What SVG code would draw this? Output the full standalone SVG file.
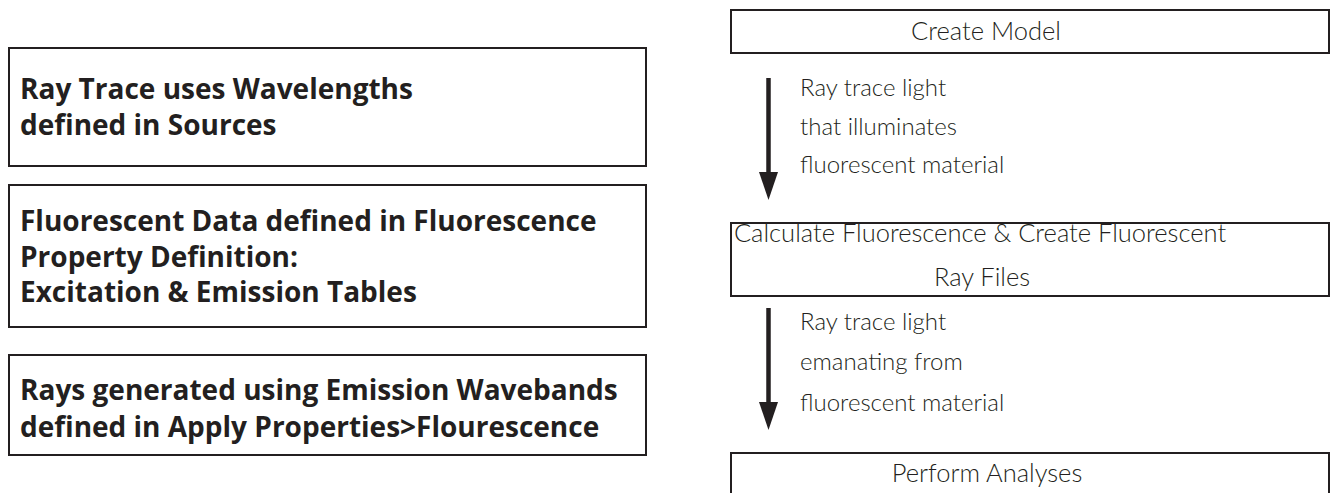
<svg xmlns="http://www.w3.org/2000/svg" width="1330" height="493" viewBox="0 0 1330 493">
  <style>
    .box { fill: #ffffff; stroke: #231f20; stroke-width: 2; }
    .bold { font-family: "Open Sans", Lato, "Liberation Sans", sans-serif; font-weight: 700; font-size: 28px; fill: #231f20; }
    .light { font-family: Lato, "Open Sans", "Liberation Sans", sans-serif; font-weight: 300; font-size: 25.5px; fill: #231f20; }
    .lbl { font-family: Lato, "Open Sans", "Liberation Sans", sans-serif; font-weight: 300; font-size: 24px; fill: #231f20; }
    .mid { text-anchor: middle; }
    .shaft { stroke: #231f20; stroke-width: 4.5; fill: none; }
    .head { fill: #231f20; }
  </style>
  <rect width="1330" height="493" fill="#ffffff"/>

  <g id="note-wavelengths">
    <rect class="box" x="9" y="48" width="637" height="118"/>
    <text class="bold" x="20" y="99">Ray Trace uses Wavelengths</text>
    <text class="bold" x="20" y="135">defined in Sources</text>
  </g>

  <g id="note-fluorescent-data">
    <rect class="box" x="9" y="185" width="637" height="142"/>
    <text class="bold" x="20" y="231">Fluorescent Data defined in Fluorescence</text>
    <text class="bold" x="20" y="267">Property Definition:</text>
    <text class="bold" x="20" y="302">Excitation &amp; Emission Tables</text>
  </g>

  <g id="note-rays-generated">
    <rect class="box" x="9" y="355" width="637" height="100"/>
    <text class="bold" x="20" y="400">Rays generated using Emission Wavebands</text>
    <text class="bold" x="20" y="437">defined in Apply Properties&gt;Flourescence</text>
  </g>

  <g id="step-create-model">
    <rect class="box" x="731" y="10" width="598" height="43"/>
    <text class="light mid" x="986" y="40">Create Model</text>
  </g>

  <g id="step-calculate">
    <rect class="box" x="731" y="223" width="598" height="73"/>
    <text class="light mid" x="980" y="242">Calculate Fluorescence &amp; Create Fluorescent</text>
    <text class="light mid" x="982" y="286">Ray Files</text>
  </g>

  <g id="step-analyses">
    <rect class="box" x="731" y="453" width="598" height="50"/>
    <text class="light mid" x="987" y="482">Perform Analyses</text>
  </g>

  <g id="connectors">
    <g id="arrow-1">
      <line class="shaft" x1="768.5" y1="78" x2="768.5" y2="174"/>
      <polygon class="head" points="759,172 778,172 768.5,200"/>
      <text class="lbl" x="800" y="96">Ray trace light</text>
      <text class="lbl" x="800" y="135">that illuminates</text>
      <text class="lbl" x="800" y="173">fluorescent material</text>
    </g>
    <g id="arrow-2">
      <line class="shaft" x1="768.5" y1="308" x2="768.5" y2="404"/>
      <polygon class="head" points="759,402 778,402 768.5,430"/>
      <text class="lbl" x="800" y="330">Ray trace light</text>
      <text class="lbl" x="800" y="370">emanating from</text>
      <text class="lbl" x="800" y="411">fluorescent material</text>
    </g>
  </g>
</svg>
